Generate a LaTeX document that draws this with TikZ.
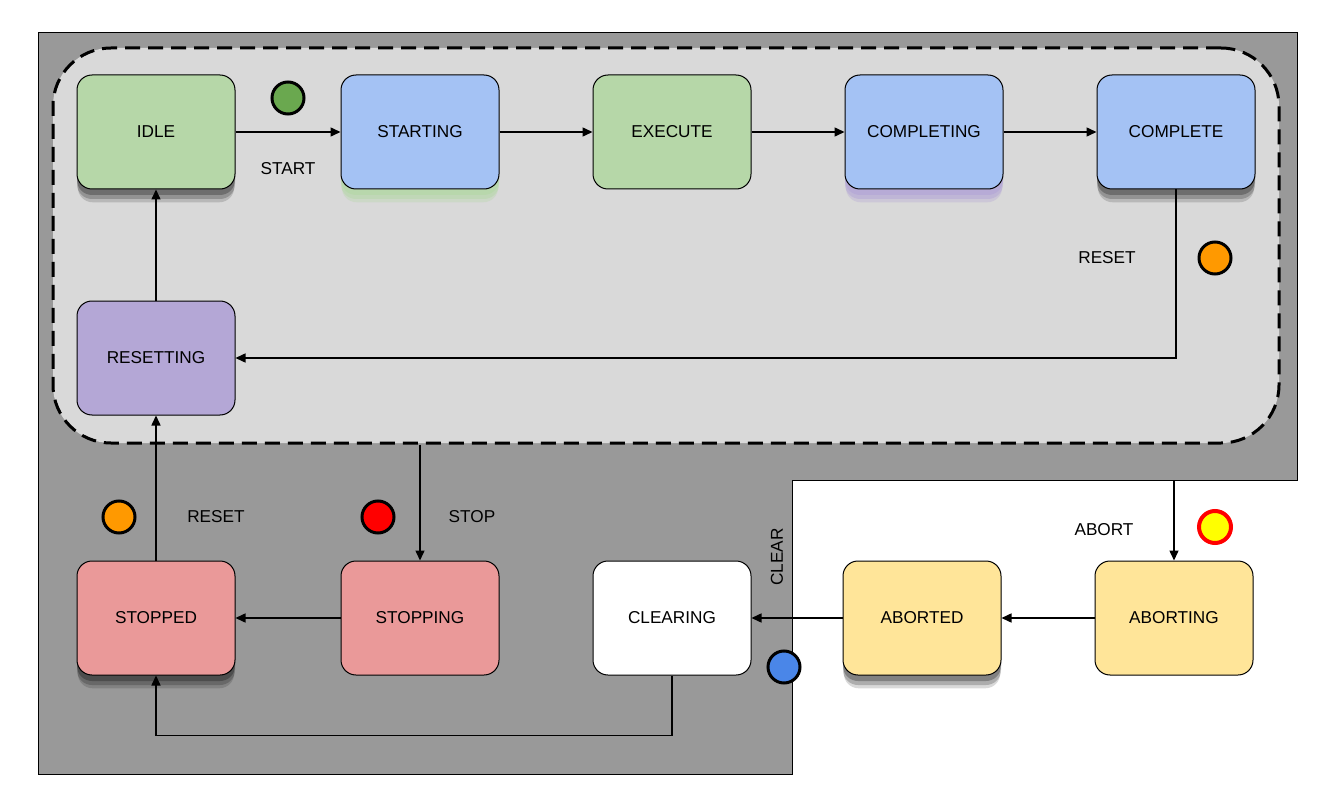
\documentclass[tikz,border=0pt]{standalone}
\usepackage{fontspec}
\setmainfont{Liberation Sans}
\usetikzlibrary{arrows.meta,shadows}

\definecolor{regiongray}{HTML}{999999}
\definecolor{normalgray}{HTML}{D9D9D9}
\definecolor{stgreen}{HTML}{B6D7A8}
\definecolor{stblue}{HTML}{A4C2F4}
\definecolor{stpurple}{HTML}{B4A7D6}
\definecolor{stred}{HTML}{EA9999}
\definecolor{styellow}{HTML}{FFE599}
\definecolor{dotgreen}{HTML}{6AA84F}
\definecolor{dotorange}{HTML}{FF9900}
\definecolor{dotred}{HTML}{FF0000}
\definecolor{dotblue}{HTML}{4A86E8}
\definecolor{dotyellow}{HTML}{FFFF00}

\begin{document}
\begin{tikzpicture}[x=0.5pt,y=-0.5pt,
  font=\fontsize{8.6}{10}\selectfont,
  state/.style={draw,line width=0.5pt,shape=rectangle,rounded corners=7.5pt,
    minimum width=79pt,minimum height=57pt,inner sep=0pt},
  darkshadow/.style={
    drop shadow={shadow xshift=0pt,shadow yshift=-7pt,shadow scale=0.99,fill=black,opacity=.15},
    drop shadow={shadow xshift=0pt,shadow yshift=-5pt,fill=black,opacity=.2},
    drop shadow={shadow xshift=0pt,shadow yshift=-3pt,fill=black,opacity=.25}},
  tintshadow/.style={
    drop shadow={shadow xshift=0pt,shadow yshift=-7pt,shadow scale=0.99,fill=#1,opacity=.35},
    drop shadow={shadow xshift=0pt,shadow yshift=-5pt,fill=#1,opacity=.5},
    drop shadow={shadow xshift=0pt,shadow yshift=-3pt,fill=#1,opacity=.7}},
  lamp/.style={draw,line width=1.5pt,shape=circle,minimum size=16pt,inner sep=0pt,fill=#1},
  trans/.style={line width=0.75pt,-{Triangle[length=5pt,width=4.5pt]}}]

\useasboundingbox (0,0) rectangle (1324,797);
\fill[white] (0,0) rectangle (1324,797);

% the machine area
\draw[line width=0.5pt,fill=regiongray] (38,33) -- (1297,33) -- (1297,480) -- (792,480)
  -- (792,774) -- (38,774) -- cycle;
\node[draw,dashed,dash pattern=on 7.5pt off 4pt,line width=1.5pt,fill=normalgray,
  shape=rectangle,rounded corners=29pt,minimum width=613pt,minimum height=197.5pt]
  (normal) at (666,245.5) {};
\coordinate (abortsrc) at (1174,480);

% indicator lamps
\node[lamp=dotgreen] (lampstart) at (288,98) {};
\node[lamp=dotorange] (lampreset1) at (1215,258) {};
\node[lamp=dotorange] (lampreset2) at (119,517) {};
\node[lamp=dotred] (lampstop) at (378,517) {};
\node[lamp=dotblue] (lampclear) at (784,667) {};
\node[lamp=dotyellow,draw=dotred,line width=2pt] (lampabort) at (1215,527) {};

% command labels
\node (cmdstart) at (288,169) {START};
\node (cmdreset1) at (1107,258) {RESET};
\node (cmdreset2) at (216,517) {RESET};
\node (cmdstop) at (472,517) {STOP};
\node (cmdabort) at (1104,530) {ABORT};
\node[rotate=90] (cmdclear) at (777,557) {CLEAR};

% states
\node[state,fill=stgreen,darkshadow] (idle) at (156,132) {IDLE};
\node[state,fill=stblue,tintshadow=stgreen] (starting) at (420,132) {STARTING};
\node[state,fill=stgreen] (execute) at (672,132) {EXECUTE};
\node[state,fill=stblue,tintshadow=stpurple] (completing) at (924,132) {COMPLETING};
\node[state,fill=stblue,darkshadow] (complete) at (1176,132) {COMPLETE};
\node[state,fill=stpurple] (resetting) at (156,358) {RESETTING};
\node[state,fill=stred,darkshadow] (stopped) at (156,618) {STOPPED};
\node[state,fill=stred] (stopping) at (420,618) {STOPPING};
\node[state,fill=white] (clearing) at (672,618) {CLEARING};
\node[state,fill=styellow,darkshadow] (aborted) at (922,618) {ABORTED};
\node[state,fill=styellow] (aborting) at (1174,618) {ABORTING};

\path[trans] (idle) edge (starting);
\path[trans] (starting) edge (execute);
\path[trans] (execute) edge (completing);
\path[trans] (completing) edge (complete);
\draw[trans] (complete.south) |- (resetting.east);
\path[trans] (resetting) edge (idle);
\path[trans] (stopped) edge (resetting);
\draw[trans] (normal.south -| stopping.north) -- (stopping.north);
\path[trans] (stopping) edge (stopped);
\draw[trans] (clearing.south) -- ++(0,60) -| (stopped.south);
\path[trans] (aborted) edge (clearing);
\path[trans] (aborting) edge (aborted);
\draw[trans] (abortsrc) -- (aborting.north);

\end{tikzpicture}
\end{document}
